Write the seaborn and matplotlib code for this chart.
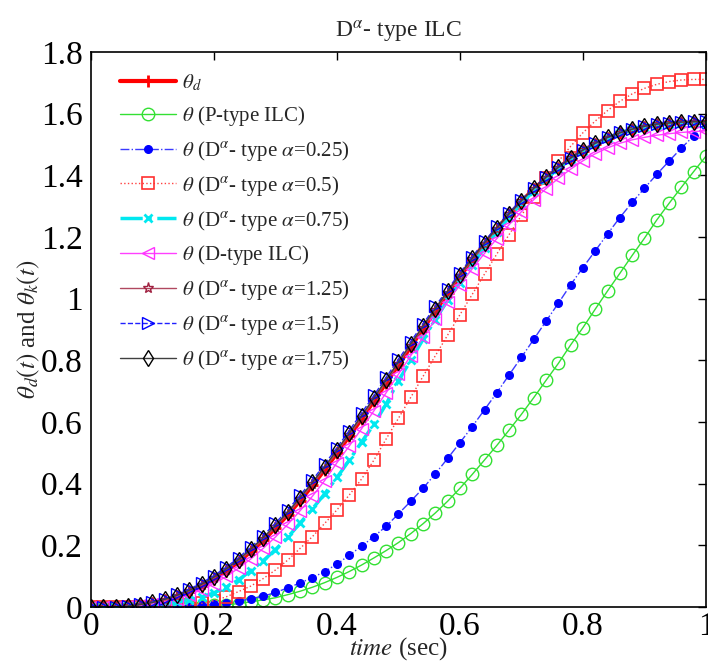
import matplotlib
matplotlib.use("Agg")
import matplotlib.pyplot as plt
import seaborn as sns
from matplotlib.ticker import FormatStrFormatter

# time axis, step 0.02 s
time = [round(0.02 * i, 2) for i in range(51)]

theta_d = [0.000, 0.000, 0.001, 0.003, 0.007, 0.013, 0.022, 0.035, 0.050, 0.069,
           0.091, 0.117, 0.147, 0.180, 0.216, 0.256, 0.299, 0.345, 0.394, 0.445,
           0.499, 0.554, 0.610, 0.668, 0.727, 0.785, 0.844, 0.903, 0.960, 1.017,
           1.072, 1.126, 1.177, 1.226, 1.272, 1.315, 1.355, 1.391, 1.424, 1.454,
           1.480, 1.502, 1.521, 1.536, 1.548, 1.557, 1.564, 1.568, 1.570, 1.571, 1.571]

theta_p = [0.000, 0.000, 0.000, 0.000, 0.000, 0.000, 0.001, 0.001, 0.002, 0.003,
           0.005, 0.007, 0.011, 0.017, 0.023, 0.030, 0.040, 0.051, 0.064, 0.079,
           0.096, 0.115, 0.136, 0.159, 0.183, 0.209, 0.238, 0.270, 0.305, 0.343,
           0.385, 0.430, 0.477, 0.524, 0.574, 0.625, 0.679, 0.735, 0.790, 0.850,
           0.906, 0.966, 1.025, 1.082, 1.140, 1.196, 1.255, 1.309, 1.361, 1.412, 1.462]

theta_a025 = [0.000, 0.000, 0.000, 0.000, 0.000, 0.000, 0.001, 0.002, 0.004, 0.006,
              0.009, 0.013, 0.019, 0.027, 0.035, 0.047, 0.062, 0.078, 0.095, 0.115,
              0.139, 0.168, 0.197, 0.228, 0.262, 0.302, 0.343, 0.385, 0.432, 0.482,
              0.533, 0.585, 0.640, 0.695, 0.753, 0.810, 0.868, 0.927, 0.985, 1.045,
              1.101, 1.155, 1.210, 1.263, 1.312, 1.358, 1.403, 1.446, 1.488, 1.528, 1.560]

theta_a05 = [0.000, 0.000, 0.000, 0.000, 0.000, 0.000, 0.002, 0.004, 0.007, 0.012,
             0.020, 0.033, 0.050, 0.068, 0.092, 0.120, 0.152, 0.190, 0.228, 0.271,
             0.315, 0.363, 0.415, 0.476, 0.545, 0.612, 0.680, 0.748, 0.815, 0.882,
             0.948, 1.014, 1.080, 1.145, 1.208, 1.270, 1.330, 1.390, 1.445, 1.494,
             1.538, 1.576, 1.610, 1.640, 1.664, 1.682, 1.695, 1.704, 1.709, 1.711, 1.711]

theta_a075 = [0.000, 0.000, 0.001, 0.002, 0.004, 0.007, 0.011, 0.016, 0.023, 0.032,
              0.046, 0.064, 0.088, 0.118, 0.150, 0.186, 0.226, 0.272, 0.318, 0.367,
              0.420, 0.476, 0.535, 0.592, 0.658, 0.734, 0.800, 0.868, 0.932, 0.995,
              1.052, 1.110, 1.165, 1.216, 1.264, 1.309, 1.350, 1.388, 1.422, 1.453,
              1.479, 1.502, 1.521, 1.537, 1.549, 1.558, 1.564, 1.568, 1.570, 1.571, 1.571]

theta_dtype = [0.000, 0.000, 0.000, 0.002, 0.005, 0.010, 0.017, 0.027, 0.040, 0.056,
               0.076, 0.099, 0.126, 0.156, 0.190, 0.227, 0.268, 0.312, 0.359, 0.410,
               0.468, 0.522, 0.578, 0.636, 0.695, 0.755, 0.815, 0.874, 0.933, 0.990,
               1.045, 1.097, 1.147, 1.195, 1.240, 1.282, 1.321, 1.357, 1.390, 1.420,
               1.447, 1.470, 1.489, 1.504, 1.515, 1.523, 1.530, 1.535, 1.539, 1.542, 1.544]

theta_a125 = [0.000, 0.000, 0.001, 0.003, 0.007, 0.014, 0.023, 0.036, 0.052, 0.071,
              0.094, 0.120, 0.150, 0.183, 0.220, 0.260, 0.303, 0.349, 0.398, 0.449,
              0.503, 0.558, 0.614, 0.672, 0.731, 0.789, 0.848, 0.906, 0.963, 1.019,
              1.074, 1.127, 1.178, 1.227, 1.273, 1.316, 1.356, 1.392, 1.425, 1.455,
              1.481, 1.503, 1.522, 1.537, 1.549, 1.558, 1.565, 1.569, 1.572, 1.573, 1.573]

theta_a15 = [0.000, 0.000, 0.001, 0.004, 0.009, 0.016, 0.027, 0.041, 0.058, 0.078,
             0.102, 0.129, 0.160, 0.194, 0.231, 0.272, 0.315, 0.362, 0.411, 0.463,
             0.517, 0.572, 0.629, 0.686, 0.745, 0.803, 0.861, 0.918, 0.975, 1.030,
             1.084, 1.136, 1.186, 1.234, 1.279, 1.321, 1.360, 1.396, 1.428, 1.457,
             1.483, 1.505, 1.524, 1.539, 1.551, 1.560, 1.567, 1.571, 1.574, 1.575, 1.575]

theta_a175 = [0.000, 0.000, 0.001, 0.003, 0.008, 0.015, 0.025, 0.038, 0.054, 0.074,
              0.097, 0.124, 0.154, 0.188, 0.225, 0.265, 0.308, 0.355, 0.404, 0.455,
              0.509, 0.564, 0.620, 0.678, 0.737, 0.795, 0.853, 0.911, 0.968, 1.024,
              1.078, 1.131, 1.181, 1.230, 1.275, 1.318, 1.358, 1.394, 1.426, 1.456,
              1.482, 1.504, 1.523, 1.538, 1.550, 1.559, 1.566, 1.570, 1.573, 1.574, 1.574]

labels = [r'$\theta_d$',
          r'$\theta$ (P-type ILC)',
          r'$\theta$ (D$^{\alpha}$- type $\alpha$=0.25)',
          r'$\theta$ (D$^{\alpha}$- type $\alpha$=0.5)',
          r'$\theta$ (D$^{\alpha}$- type $\alpha$=0.75)',
          r'$\theta$ (D-type ILC)',
          r'$\theta$ (D$^{\alpha}$- type $\alpha$=1.25)',
          r'$\theta$ (D$^{\alpha}$- type $\alpha$=1.5)',
          r'$\theta$ (D$^{\alpha}$- type $\alpha$=1.75)']

sns.set_style("white")
plt.rcParams['font.family'] = ['Liberation Serif', 'DejaVu Serif']
plt.rcParams['mathtext.fontset'] = 'stix'

fig = plt.figure(figsize=(7.08, 6.62), dpi=100)
ax = fig.add_axes([0.1285, 0.0831, 0.8686, 0.8384])

series = [theta_d, theta_p, theta_a025, theta_a05, theta_a075,
          theta_dtype, theta_a125, theta_a15, theta_a175]
styles = [
    dict(color='#ff0000', linestyle='-', linewidth=3, marker='+', markersize=9,
         markeredgewidth=2, markeredgecolor='#ff0000'),
    dict(color='#33e033', linestyle='-', linewidth=1, marker='o', markersize=9,
         markerfacecolor='none', markeredgecolor='#33e033', markeredgewidth=1),
    dict(color='#3a3aff', linestyle='-.', linewidth=1, marker='o', markersize=5.5,
         markerfacecolor='#0000ff', markeredgecolor='#0000ff', markeredgewidth=1),
    dict(color='#ff4040', linestyle=':', linewidth=1, marker='s', markersize=9,
         markerfacecolor='none', markeredgecolor='#ff3030', markeredgewidth=1.2),
    dict(color='#00e8f0', linestyle='-.', linewidth=2.5, marker='x', markersize=6,
         markeredgecolor='#00e8f0', markeredgewidth=2),
    dict(color='#ff40ff', linestyle='-', linewidth=1, marker='<', markersize=9,
         markerfacecolor='none', markeredgecolor='#ff30ff', markeredgewidth=1),
    dict(color='#b04860', linestyle='-', linewidth=1, marker='*', markersize=8,
         markerfacecolor='none', markeredgecolor='#a02040', markeredgewidth=1),
    dict(color='#2020ff', linestyle='--', linewidth=1, marker='>', markersize=8,
         markerfacecolor='none', markeredgecolor='#0000ff', markeredgewidth=1),
    dict(color='#404040', linestyle='-', linewidth=1, marker='d', markersize=8,
         markerfacecolor='none', markeredgecolor='#000000', markeredgewidth=1),
]

for vals, lab, st in zip(series, labels, styles):
    sns.lineplot(x=time, y=vals, ax=ax, label=lab, **st)

ax.set_xlim(0, 1)
ax.set_ylim(0, 1.8)
ax.set_xticks([0, 0.2, 0.4, 0.6, 0.8, 1])
ax.set_yticks([0, 0.2, 0.4, 0.6, 0.8, 1, 1.2, 1.4, 1.6, 1.8])
ax.xaxis.set_major_formatter(FormatStrFormatter('%g'))
ax.yaxis.set_major_formatter(FormatStrFormatter('%g'))
ax.tick_params(direction='in', top=True, right=True, length=6, width=1,
               labelsize=24, colors='black')
ax.tick_params(axis='y', pad=6)
for sp in ax.spines.values():
    sp.set_color('black')
    sp.set_linewidth(1.2)

ax.set_title(r'D$^{\alpha}$- type ILC', fontsize=17, pad=10)
ax.set_xlabel(r'$\mathit{time}$ (sec)', fontsize=18, labelpad=-5)
ax.set_ylabel(r'$\theta_d(t)$ and $\theta_k(t)$', fontsize=18, labelpad=-1)

ax.legend(loc='upper left', bbox_to_anchor=(0.047, 0.963), frameon=False,
          fontsize=15, handlelength=2.7, handletextpad=0.3, labelspacing=0.52,
          borderpad=0, borderaxespad=0)

fig.savefig('out.png', dpi=100)
plt.close()
